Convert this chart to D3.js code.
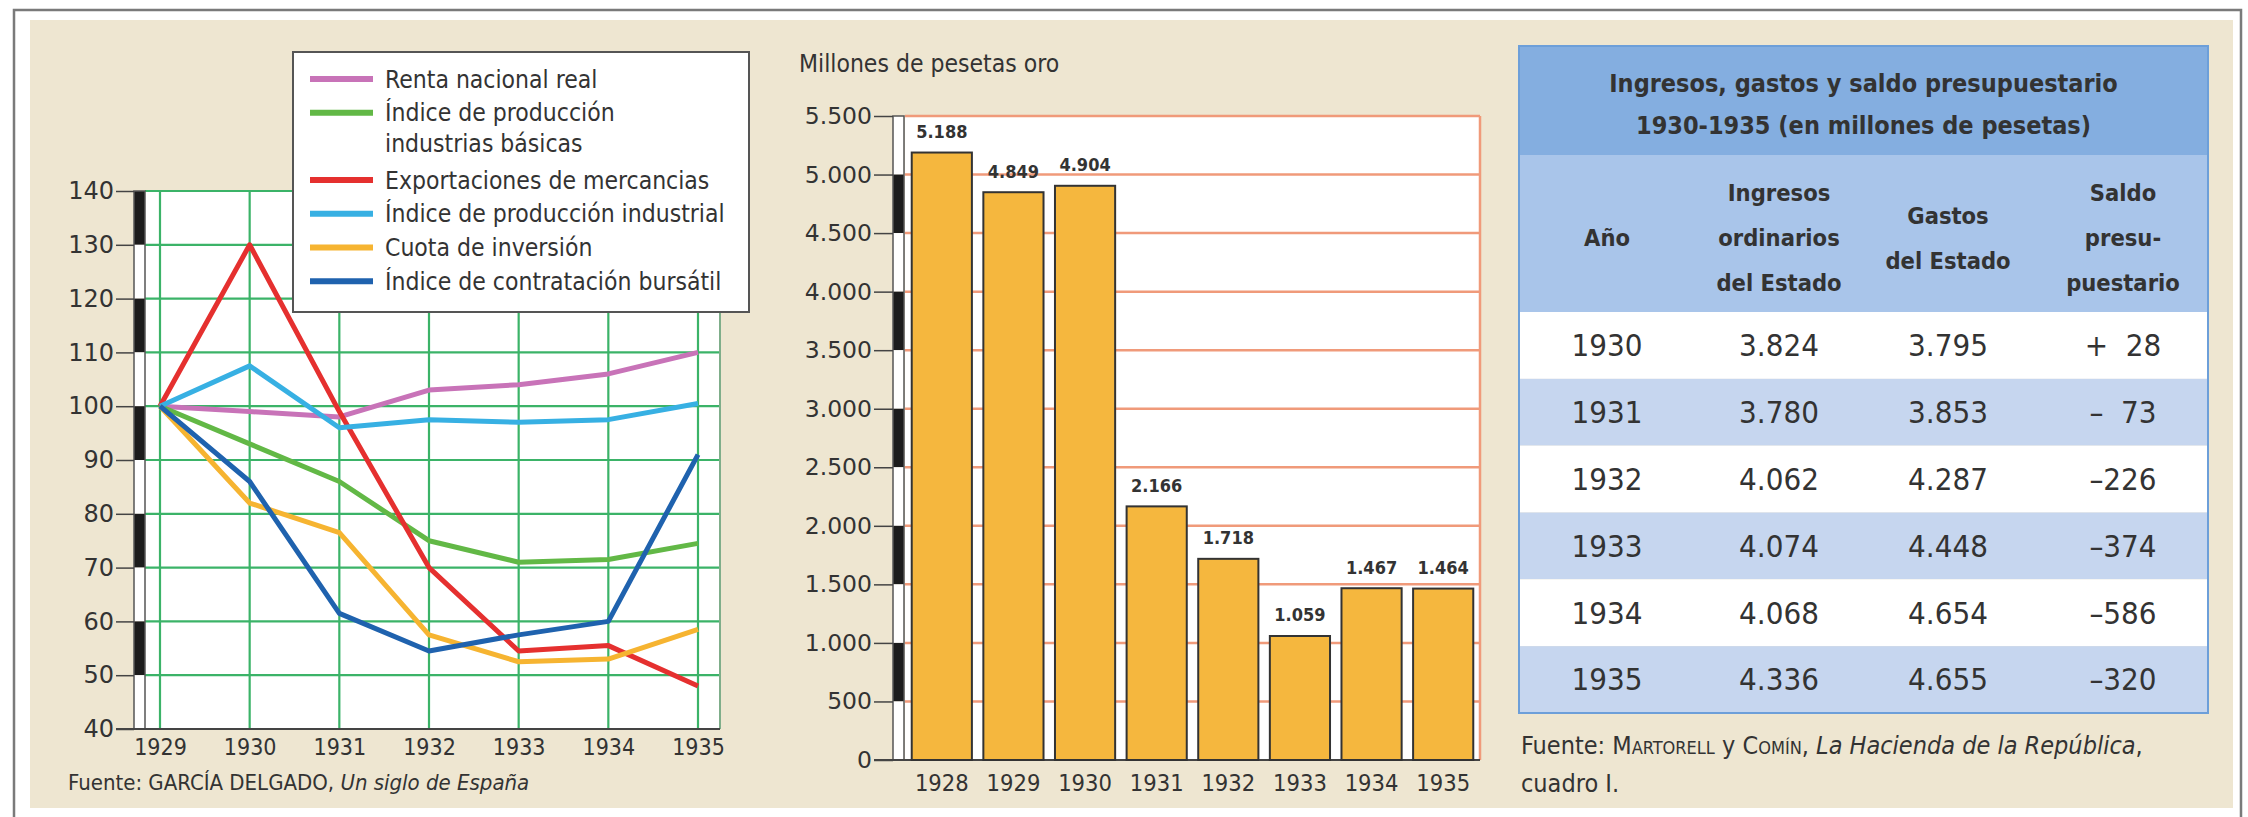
<!DOCTYPE html>
<html>
<head>
<meta charset="utf-8">
<script src="https://cdn.jsdelivr.net/npm/d3@7"></script>
<style>
  body { margin: 0; background: #fff; }
  svg text { font-family: 'DejaVu Sans Condensed', 'DejaVu Sans', sans-serif; font-stretch: condensed; fill: #333; }
  svg text.wide { font-family: 'DejaVu Sans', sans-serif; font-stretch: normal; }
</style>
</head>
<body>
<svg class="sheet" width="2248" height="817"></svg>
<script>
// --- line chart: indices, 1929 = 100
const lineYears = [1929, 1930, 1931, 1932, 1933, 1934, 1935];
const renta = [100, 99, 98, 103, 104, 106, 110];
const basicas = [100, 93, 86, 75, 71, 71.5, 74.5];
const exportaciones = [100, 130, 99, 70, 54.5, 55.5, 48];
const industrial = [100, 107.5, 96, 97.5, 97, 97.5, 100.5];
const inversion = [100, 82, 76.5, 57.5, 52.5, 53, 58.5];
const bursatil = [100, 86, 61.5, 54.5, 57.5, 60, 91];
const seriesLabels = [
  ['Renta nacional real'],
  ['Índice de producción', 'industrias básicas'],
  ['Exportaciones de mercancias'],
  ['Índice de producción industrial'],
  ['Cuota de inversión'],
  ['Índice de contratación bursátil'],
];
const seriesColors = ['#c873b8', '#62b846', '#e5302f', '#37b0e3', '#f6b431', '#1f62ae'];
const lineTicks = [40, 50, 60, 70, 80, 90, 100, 110, 120, 130, 140];

// --- bar chart: exports, millones de pesetas oro
const barYears = [1928, 1929, 1930, 1931, 1932, 1933, 1934, 1935];
const exportsValues = [5188, 4849, 4904, 2166, 1718, 1059, 1467, 1464];
const barTicks = [0, 500, 1000, 1500, 2000, 2500, 3000, 3500, 4000, 4500, 5000, 5500];

// --- table
const tableYears = [1930, 1931, 1932, 1933, 1934, 1935];
const ingresos = [3824, 3780, 4062, 4074, 4068, 4336];
const gastos = [3795, 3853, 4287, 4448, 4654, 4655];
const saldo = [28, -73, -226, -374, -586, -320];
const tableHeaders = [['Año'], ['Ingresos', 'ordinarios', 'del Estado'], ['Gastos', 'del Estado'], ['Saldo', 'presu-', 'puestario']];

const es = d3.formatLocale({ decimal: ',', thousands: '.', grouping: [3], currency: ['', ' €'] });
const fmt = es.format(',');
const fmtSaldo = v => (v >= 0 ? '+' : '–') + (Math.abs(v) < 100 ? '  ' : '') + Math.abs(v);

const svg = d3.select('.sheet');

// page frame + beige panel
svg.append('path').attr('d', 'M14,817V10H2241V817').attr('fill', 'none').attr('stroke', '#7a7a7a').attr('stroke-width', 2.5);
svg.append('rect').attr('x', 30).attr('y', 20).attr('width', 2203).attr('height', 788).attr('fill', '#eee6d1');

function stripedBar(g, ticks, y, x0, darkFirst) {
  for (let i = 0; i < ticks.length - 1; i++) {
    const top = ticks[ticks.length - 1 - i];
    const bottom = ticks[ticks.length - 2 - i];
    g.append('rect')
      .attr('x', x0).attr('width', 11)
      .attr('y', y(top)).attr('height', y(bottom) - y(top))
      .attr('fill', (i % 2 === 0) === darkFirst ? '#1c1c1c' : '#fff');
  }
  g.append('rect')
    .attr('x', x0).attr('width', 11)
    .attr('y', y(ticks[ticks.length - 1])).attr('height', y(ticks[0]) - y(ticks[ticks.length - 1]))
    .attr('fill', 'none').attr('stroke', '#555').attr('stroke-width', 1.5);
}

function createLineChart() {
  const g = svg.append('g');
  const x = d3.scalePoint().domain(lineYears).range([160, 698]);
  const y = d3.scaleLinear().domain([40, 140]).range([729, 191]);
  const left = 145, right = 720;

  g.append('rect').attr('x', left).attr('y', y(140)).attr('width', right - left).attr('height', y(40) - y(140)).attr('fill', '#fff');

  g.append('g').selectAll('line.h').data(lineTicks.slice(1)).enter().append('line')
    .attr('x1', left).attr('x2', right).attr('y1', d => y(d)).attr('y2', d => y(d))
    .attr('stroke', '#3bb368').attr('stroke-width', 2.2);
  g.append('g').selectAll('line.v').data(lineYears).enter().append('line')
    .attr('x1', d => x(d)).attr('x2', d => x(d)).attr('y1', y(140)).attr('y2', y(40))
    .attr('stroke', '#3bb368').attr('stroke-width', 2.2);
  g.append('line').attr('x1', right).attr('x2', right).attr('y1', y(140)).attr('y2', y(40))
    .attr('stroke', '#7fae8a').attr('stroke-width', 2);

  stripedBar(g, lineTicks, y, 134, true);

  const yAxis = g.append('g').attr('transform', 'translate(134,0)')
    .call(d3.axisLeft(y).tickValues(lineTicks).tickSize(18).tickPadding(2));
  yAxis.select('.domain').remove();
  yAxis.selectAll('line').attr('stroke', '#444').attr('stroke-width', 1.5);
  yAxis.selectAll('text').attr('class', 'wide').attr('font-size', 24).attr('fill', '#3a3a3a');

  g.append('line').attr('x1', 116).attr('x2', right).attr('y1', y(40)).attr('y2', y(40))
    .attr('stroke', '#444').attr('stroke-width', 2);

  const xAxis = g.append('g').attr('transform', `translate(0,${y(40)})`)
    .call(d3.axisBottom(x).tickSize(0).tickPadding(10));
  xAxis.select('.domain').remove();
  xAxis.selectAll('text').attr('font-size', 23).attr('fill', '#3a3a3a');

  const series = [renta, basicas, exportaciones, industrial, inversion, bursatil];
  const line = d3.line().x((d, i) => x(lineYears[i])).y(d => y(d));
  g.append('g').selectAll('path').data(series).enter().append('path')
    .attr('d', line)
    .attr('fill', 'none')
    .attr('stroke', (d, i) => seriesColors[i])
    .attr('stroke-width', 5)
    .attr('stroke-linejoin', 'round');

  // legend
  const lg = g.append('g');
  lg.append('rect').attr('x', 293).attr('y', 52).attr('width', 456).attr('height', 260)
    .attr('fill', '#fff').attr('stroke', '#555').attr('stroke-width', 2);
  let row = 0;
  seriesLabels.forEach((lines, i) => {
    const ly = 79 + row * 33.7;
    lg.append('line').attr('x1', 310).attr('x2', 373).attr('y1', ly).attr('y2', ly)
      .attr('stroke', seriesColors[i]).attr('stroke-width', 6);
    lines.forEach((t, j) => {
      lg.append('text').attr('x', 385).attr('y', ly + j * 31).attr('dy', '0.35em')
        .attr('font-size', 24.5).text(t);
    });
    row += lines.length;
  });

  const src = g.append('text').attr('x', 68).attr('y', 782).attr('dy', '0.35em').attr('font-size', 22);
  src.append('tspan').text('Fuente: GARCÍA DELGADO, ');
  src.append('tspan').attr('font-style', 'italic').text('Un siglo de España');
}

function createBarChart() {
  const g = svg.append('g');
  const x = d3.scaleBand().domain(barYears).range([906, 1479]).paddingInner(0.16).paddingOuter(0.08);
  const y = d3.scaleLinear().domain([0, 5500]).range([760, 116]);
  const left = 905, right = 1480;

  g.append('text').attr('x', 799).attr('y', 63).attr('dy', '0.35em').attr('font-size', 24.5)
    .text('Millones de pesetas oro');

  g.append('rect').attr('x', left).attr('y', y(5500)).attr('width', right - left).attr('height', y(0) - y(5500)).attr('fill', '#fff');
  g.append('g').selectAll('line').data(barTicks.slice(1)).enter().append('line')
    .attr('x1', left).attr('x2', right).attr('y1', d => y(d)).attr('y2', d => y(d))
    .attr('stroke', '#f09a7a').attr('stroke-width', 2.5);
  g.append('line').attr('x1', right).attr('x2', right).attr('y1', y(5500)).attr('y2', y(0))
    .attr('stroke', '#f09a7a').attr('stroke-width', 2.5);

  stripedBar(g, barTicks, y, 893, false);

  const yAxis = g.append('g').attr('transform', 'translate(893,0)')
    .call(d3.axisLeft(y).tickValues(barTicks).tickSize(19).tickPadding(2).tickFormat(fmt));
  yAxis.select('.domain').remove();
  yAxis.selectAll('line').attr('stroke', '#444').attr('stroke-width', 1.5);
  yAxis.selectAll('text').attr('class', 'wide').attr('font-size', 23.5).attr('fill', '#3a3a3a');

  g.append('line').attr('x1', 874).attr('x2', right).attr('y1', y(0)).attr('y2', y(0))
    .attr('stroke', '#444').attr('stroke-width', 2);

  g.append('g').selectAll('rect').data(exportsValues).enter().append('rect')
    .attr('x', (d, i) => x(barYears[i]))
    .attr('y', d => y(d))
    .attr('width', x.bandwidth())
    .attr('height', d => y(0) - y(d))
    .attr('fill', '#f5b73e')
    .attr('stroke', '#333')
    .attr('stroke-width', 2);

  g.append('g').selectAll('text').data(exportsValues).enter().append('text')
    .attr('x', (d, i) => x(barYears[i]) + x.bandwidth() / 2)
    .attr('y', d => y(d) - 21)
    .attr('dy', '0.35em')
    .attr('text-anchor', 'middle')
    .attr('font-size', 18)
    .attr('font-weight', 'bold')
    .text(d => fmt(d));

  const xAxis = g.append('g').attr('transform', `translate(0,${y(0)})`)
    .call(d3.axisBottom(x).tickSize(0).tickPadding(14));
  xAxis.select('.domain').remove();
  xAxis.selectAll('text').attr('font-size', 23.5).attr('fill', '#3a3a3a');
}

function createTable() {
  const g = svg.append('g');
  const left = 1519, right = 2208, top = 46;
  const cols = [1607, 1779, 1948, 2123];
  const rowY = d3.scaleBand().domain(tableYears).range([312, 713]);

  g.append('rect').attr('x', left).attr('y', top).attr('width', right - left).attr('height', 155 - top).attr('fill', '#84aee0');
  g.append('rect').attr('x', left).attr('y', 155).attr('width', right - left).attr('height', 312 - 155).attr('fill', '#a9c5ea');
  g.append('g').selectAll('rect').data(tableYears).enter().append('rect')
    .attr('x', left).attr('width', right - left)
    .attr('y', d => rowY(d)).attr('height', rowY.bandwidth())
    .attr('fill', (d, i) => i % 2 ? '#c6d6ef' : '#fff');
  g.append('rect').attr('x', left).attr('y', top).attr('width', right - left).attr('height', 713 - top)
    .attr('fill', 'none').attr('stroke', '#6d9fd9').attr('stroke-width', 2);

  const mid = (left + right) / 2;
  g.append('text').attr('x', mid).attr('y', 83).attr('dy', '0.35em').attr('text-anchor', 'middle')
    .attr('font-size', 25).attr('font-weight', 'bold').attr('fill', '#1e1e1e').text('Ingresos, gastos y saldo presupuestario');
  g.append('text').attr('x', mid).attr('y', 125).attr('dy', '0.35em').attr('text-anchor', 'middle')
    .attr('font-size', 25).attr('font-weight', 'bold').attr('fill', '#1e1e1e').text('1930-1935 (en millones de pesetas)');

  tableHeaders.forEach((lines, c) => {
    const y0 = 238 - (lines.length - 1) * 45 / 2;
    lines.forEach((t, j) => {
      g.append('text').attr('x', cols[c]).attr('y', y0 + j * 45).attr('dy', '0.35em')
        .attr('text-anchor', 'middle').attr('font-size', 23.5).attr('font-weight', 'bold').attr('fill', '#2a2a2a').text(t);
    });
  });

  const cells = tableYears.map((yr, i) => [String(yr), fmt(ingresos[i]), fmt(gastos[i]), fmtSaldo(saldo[i])]);
  cells.forEach((r, i) => {
    r.forEach((t, c) => {
      g.append('text').attr('x', cols[c]).attr('y', rowY(tableYears[i]) + rowY.bandwidth() / 2).attr('dy', '0.35em')
        .attr('text-anchor', 'middle').attr('font-size', 31).attr('fill', '#404040')
        .attr('xml:space', 'preserve').text(t);
    });
  });

  const s1 = g.append('text').attr('x', 1521).attr('y', 745).attr('dy', '0.35em').attr('font-size', 25);
  s1.append('tspan').text('Fuente: ');
  s1.append('tspan').attr('font-variant', 'small-caps').text('Martorell');
  s1.append('tspan').text(' y ');
  s1.append('tspan').attr('font-variant', 'small-caps').text('Comín');
  s1.append('tspan').text(', ');
  s1.append('tspan').attr('font-style', 'italic').text('La Hacienda de la República');
  s1.append('tspan').text(',');
  g.append('text').attr('x', 1521).attr('y', 783).attr('dy', '0.35em').attr('font-size', 25).text('cuadro I.');
}

createLineChart();
createBarChart();
createTable();
</script>
</body>
</html>
